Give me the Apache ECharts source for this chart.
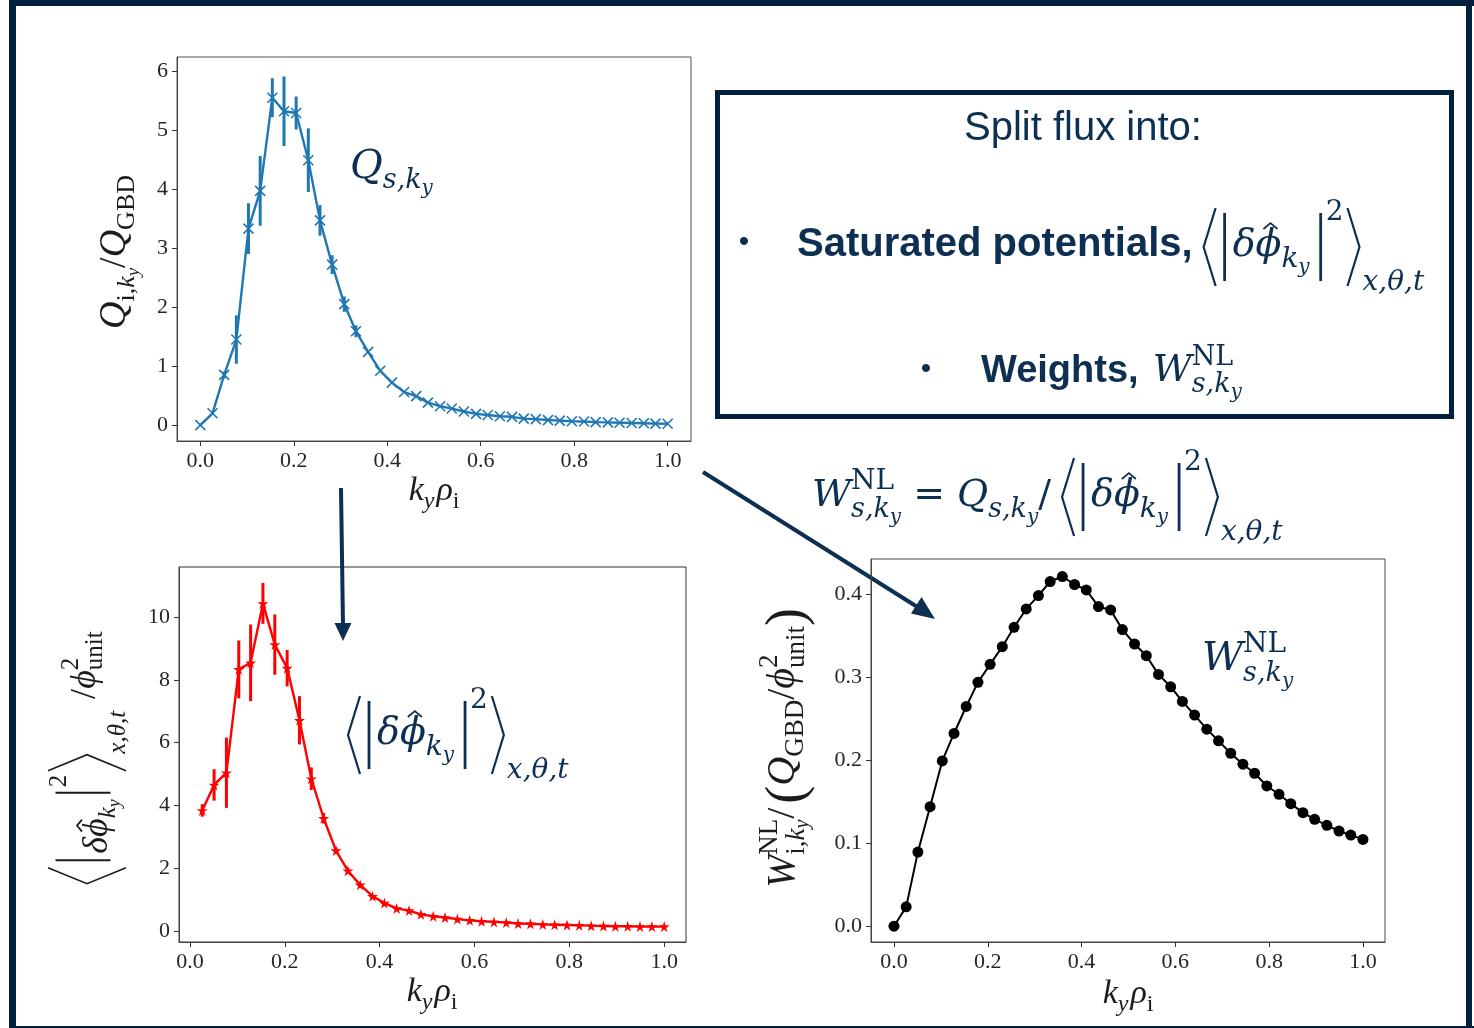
<!DOCTYPE html>
<html>
<head>
<meta charset="utf-8">
<script src="https://cdn.jsdelivr.net/npm/echarts@6/dist/echarts.min.js"></script>
<style>
  html, body { margin: 0; padding: 0; background: #ffffff; }
  #c { width: 1474px; height: 1028px; }
</style>
</head>
<body>
<div id="c"></div>
<script>
// ---- data --------------------------------------------------------------
// binormal wavenumbers k_y rho_i
const ky = [0.000, 0.026, 0.051, 0.077, 0.103, 0.128, 0.154, 0.179, 0.205, 0.231,
            0.256, 0.282, 0.308, 0.333, 0.359, 0.385, 0.410, 0.436, 0.462, 0.487,
            0.513, 0.538, 0.564, 0.590, 0.615, 0.641, 0.667, 0.692, 0.718, 0.744,
            0.769, 0.795, 0.821, 0.846, 0.872, 0.897, 0.923, 0.949, 0.974, 1.000];

// ion heat flux per mode, Q_{i,ky}/Q_GBD, and its spread
const fluxQ = [0.00, 0.20, 0.85, 1.45, 3.33, 3.97, 5.55, 5.32, 5.29, 4.49,
               3.47, 2.72, 2.05, 1.59, 1.24, 0.92, 0.72, 0.56, 0.49, 0.38,
               0.32, 0.28, 0.23, 0.19, 0.17, 0.15, 0.14, 0.11, 0.10, 0.085,
               0.075, 0.065, 0.060, 0.050, 0.045, 0.040, 0.035, 0.030, 0.025, 0.022];
const fluxQErr = [0, 0, 0.06, 0.41, 0.43, 0.59, 0.33, 0.59, 0.28, 0.54,
                  0.26, 0.16, 0.13, 0.10, 0, 0, 0, 0, 0, 0,
                  0, 0, 0, 0, 0, 0, 0, 0, 0, 0,
                  0, 0, 0, 0, 0, 0, 0, 0, 0, 0];

// saturated potential <|dphi_ky|^2>_{x,theta,t} / phi_unit^2 (from the first nonzero ky)
const kyPhi = ky.slice(1);
const phiSat = [3.84, 4.65, 5.04, 8.33, 8.54, 10.43, 9.12, 8.37, 6.71, 4.85,
                3.59, 2.56, 1.92, 1.47, 1.11, 0.89, 0.72, 0.65, 0.53, 0.47,
                0.43, 0.38, 0.34, 0.31, 0.29, 0.27, 0.24, 0.23, 0.21, 0.20,
                0.19, 0.18, 0.17, 0.16, 0.15, 0.15, 0.14, 0.14, 0.14];
const phiSatErr = [0.20, 0.50, 1.12, 0.92, 1.22, 0.65, 0.96, 0.58, 0.77, 0.36,
                   0.17, 0.10, 0.08, 0.06, 0, 0, 0, 0, 0, 0,
                   0, 0, 0, 0, 0, 0, 0, 0, 0, 0,
                   0, 0, 0, 0, 0, 0, 0, 0, 0];

// nonlinear weights W^NL_{i,ky} / (Q_GBD / phi_unit^2)
const weightW = [0.000, 0.0233, 0.0892, 0.1439, 0.1990, 0.2320, 0.2645, 0.2935, 0.3152, 0.3365,
                 0.3598, 0.3819, 0.3980, 0.4149, 0.4209, 0.4113, 0.4048, 0.3847, 0.3807, 0.3570,
                 0.3397, 0.3256, 0.3031, 0.2882, 0.2706, 0.2541, 0.2372, 0.2231, 0.2082, 0.1950,
                 0.1841, 0.1688, 0.1588, 0.1475, 0.1367, 0.1286, 0.1214, 0.1146, 0.1097, 0.1045];

// tick labels
const kyTicks = [0, 0.2, 0.4, 0.6, 0.8, 1.0];
const qTicks = [0, 1, 2, 3, 4, 5, 6];
const phiTicks = [0, 2, 4, 6, 8, 10];
const wTicks = [0, 0.1, 0.2, 0.3, 0.4];

// ---- styling -----------------------------------------------------------
const NAVY = '#0d2f52';
const FRAME = '#01203d';
const INK = '#1c1c1c';
const TICKFONT = 'Liberation Serif';
const MATHNAVY = 'DejaVu Serif';
const MATHBLACK = 'Liberation Serif';

// ---- small typesetting helper for formulas -----------------------------
const mctx = document.createElement('canvas').getContext('2d');
const I = (t, s, dy = 0, o = {}) => Object.assign({ t, s, it: true, dy }, o);
const R = (t, s, dy = 0, o = {}) => Object.assign({ t, s, it: false, dy }, o);
const D = (d, h, w, cy, o = {}) => Object.assign({ d, h, w, cy }, o);
const SP = n => ({ sp: n });
const HAT = (y, hw, hh, dx = 0) => ({ hat: true, y, hw, hh, dx });
const ST = (...rows) => ({ stack: rows });

function fontOf(tk, fam) {
  return (tk.it ? 'italic ' : '') + (tk.b ? 'bold ' : '') + tk.s + 'px "' + (tk.f || fam) + '"';
}
// lays tokens out along a baseline at y = 0, returns the end x
function flow(tokens, x0, fam, color, els) {
  let x = x0, prev = null;
  tokens.forEach(tk => {
    if (tk.sp !== undefined) { x += tk.sp; return; }
    if (tk.stack) {
      let w = 0;
      tk.stack.forEach(row => { w = Math.max(w, flow(row, x, fam, color, els) - x); });
      x += w; return;
    }
    if (tk.d) {
      const h = tk.h, w = tk.w, cy = tk.cy;
      let pts;
      if (tk.d === '<') pts = [[x + w - 1, cy - h / 2], [x + 1, cy], [x + w - 1, cy + h / 2]];
      else if (tk.d === '>') pts = [[x + 1, cy - h / 2], [x + w - 1, cy], [x + 1, cy + h / 2]];
      else pts = [[x + w / 2, cy - h / 2], [x + w / 2, cy + h / 2]];
      els.push({ type: 'polyline', shape: { points: pts },
                 style: { stroke: color, lineWidth: tk.lw || 2, fill: 'none' } });
      x += w; return;
    }
    if (tk.hat) {
      const cx = prev.x + prev.w / 2 + tk.dx;
      els.push({ type: 'polyline',
                 shape: { points: [[cx - tk.hw, tk.y + tk.hh], [cx, tk.y], [cx + tk.hw, tk.y + tk.hh]] },
                 style: { stroke: color, lineWidth: 1.7, fill: 'none' } });
      return;
    }
    const font = fontOf(tk, fam);
    mctx.font = font;
    const w = mctx.measureText(tk.t).width;
    els.push({ type: 'text', x: x, y: (tk.dy || 0) - 0.34 * tk.s,
               style: { text: tk.t, font: font, fill: tk.c || color,
                        textAlign: 'left', textVerticalAlign: 'middle', verticalAlign: 'middle' } });
    prev = { x, w };
    x += w + (tk.k || 0);
  });
  return x;
}
function formula(tokens, o) {
  const els = [];
  const w = flow(tokens, 0, o.fam, o.color, els);
  const shift = o.align === 'center' ? -w / 2 : 0;
  return { type: 'group', x: o.x, y: o.y, rotation: o.rot || 0, silent: true,
           children: [{ type: 'group', x: shift, y: 0, children: els }] };
}
// < | d phi_ky |^2 >_{x,theta,t}
function phiTokens(S, s1, s2, p) {
  return [
    D('<', p.h, p.bw, p.cy, { lw: p.lw }), SP(p.g),
    D('|', p.h - p.bi, 4, p.cy + (p.bdy || 0), { lw: p.lwb }), SP(p.g),
    I('δ', S), I('ϕ', S), HAT(p.hy, p.hw, p.hh, p.hdx),
    I('k', s1, p.sb), I('y', s2, p.sb2), SP(p.g2),
    D('|', p.h - p.bi, 4, p.cy + (p.bdy || 0), { lw: p.lwb }), SP(p.g3),
    R('2', s1, p.sup), SP(p.g3),
    D('>', p.h, p.bw, p.cy, { lw: p.lw }), SP(2),
    I('x,θ,t', s1, p.sub)
  ];
}
const navyPhi = { h: 78, bw: 14, cy: -12, bi: 10, g: 6, g2: 9, g3: 3, lw: 2.2, lwb: 2.8,
                  hy: -36, hw: 7, hh: 6, hdx: 2, sb: 10, sb2: 16, sup: -37, sub: 33 };

const kyLabel = [I('k', 34), I('y', 24, 7), SP(2), I('ρ', 34), R('i', 24, 7)];

// ---- graphic pieces: frame, text box, arrows, formulas -----------------
const graphics = [
  // slide frame
  { type: 'rect', shape: { x: 9, y: 0, width: 1465, height: 6 }, style: { fill: FRAME } },
  { type: 'rect', shape: { x: 9, y: 0, width: 7, height: 1028 }, style: { fill: FRAME } },
  { type: 'rect', shape: { x: 1466, y: 0, width: 6, height: 1028 }, style: { fill: FRAME } },
  { type: 'rect', shape: { x: 9, y: 1026, width: 1465, height: 2 }, style: { fill: FRAME } },
  // text box
  { type: 'rect', shape: { x: 717.5, y: 92.5, width: 734, height: 324 },
    style: { fill: 'none', stroke: FRAME, lineWidth: 5 } },
  formula([R('Split flux into:', 40)], { x: 1083, y: 143, align: 'center', fam: 'Liberation Sans', color: NAVY }),
  { type: 'text', x: 744, y: 243, style: { text: '•', font: '30px "Liberation Sans"', fill: NAVY,
    textAlign: 'center', textVerticalAlign: 'middle', verticalAlign: 'middle' } },
  formula([R('Saturated potentials,', 40, 0, { b: true, f: 'Liberation Sans' }), SP(10)]
          .concat(phiTokens(38, 28, 20, navyPhi)),
          { x: 797, y: 259, fam: MATHNAVY, color: NAVY }),
  { type: 'text', x: 926, y: 370, style: { text: '•', font: '30px "Liberation Sans"', fill: NAVY,
    textAlign: 'center', textVerticalAlign: 'middle', verticalAlign: 'middle' } },
  formula([R('Weights,', 38, 0, { b: true, f: 'Liberation Sans' }), SP(14),
           I('W', 38), ST([R('NL', 27, -17)], [I('s,k', 27, 10), I('y', 20, 16)])],
          { x: 981, y: 384, fam: MATHNAVY, color: NAVY }),
  // definition of the weights
  formula([I('W', 38), ST([R('NL', 28, -18)], [I('s,k', 27, 10), I('y', 20, 16)]), SP(12),
           R('=', 38), SP(12), I('Q', 38), I('s,k', 27, 10), I('y', 20, 16), R('/', 38), SP(10)]
          .concat(phiTokens(38, 28, 20, navyPhi)),
          { x: 812, y: 509, fam: MATHNAVY, color: NAVY }),
  // arrows
  { type: 'line', shape: { x1: 341, y1: 488, x2: 343, y2: 626 }, style: { stroke: NAVY, lineWidth: 4 } },
  { type: 'polygon', shape: { points: [[343, 641], [334.5, 623], [351.5, 623]] }, style: { fill: NAVY } },
  { type: 'line', shape: { x1: 703, y1: 472, x2: 919, y2: 608 }, style: { stroke: NAVY, lineWidth: 4 } },
  { type: 'polygon', shape: { points: [[935, 619], [911, 613.5], [921.5, 597]] }, style: { fill: NAVY } },
  // in-plot annotations
  formula([I('Q', 40), I('s,k', 27, 9), I('y', 20, 15)], { x: 350, y: 181, fam: MATHNAVY, color: NAVY }),
  formula(phiTokens(38, 28, 20, navyPhi), { x: 347, y: 747, fam: MATHNAVY, color: NAVY }),
  formula([I('W', 40), ST([R('NL', 28, -19)], [I('s,k', 27, 10), I('y', 20, 16)])],
          { x: 1202, y: 673, fam: MATHNAVY, color: NAVY }),
  // axis titles
  formula(kyLabel, { x: 434, y: 503, align: 'center', fam: MATHBLACK, color: INK }),
  formula(kyLabel, { x: 432, y: 1004, align: 'center', fam: MATHBLACK, color: INK }),
  formula(kyLabel, { x: 1128, y: 1006, align: 'center', fam: MATHBLACK, color: INK }),
  formula([I('Q', 38), R('i,', 26, 8), I('k', 26, 8), I('y', 19, 12), R('/', 38),
           I('Q', 38), R('GBD', 26, 8)],
          { x: 128, y: 252, rot: Math.PI / 2, align: 'center', fam: MATHBLACK, color: INK }),
  formula([D('<', 78, 18, -23, { lw: 1.6 }), SP(4), D('|', 55, 5, -27, { lw: 2 }), SP(4),
           I('δ', 36), I('ϕ', 36), HAT(-33, 6, 5, 2), I('k', 25, 7), I('y', 18, 11), SP(4),
           D('|', 55, 5, -27, { lw: 2 }), SP(3), R('2', 25, -42), SP(3),
           D('>', 78, 18, -23, { lw: 1.6 }), I('x,θ,t', 25, 17), SP(12),
           R('/', 36, -12), I('ϕ', 36, -12), ST([R('2', 25, -30)], [R('unit', 25, -6)])],
          { x: 110, y: 758, rot: Math.PI / 2, align: 'center', fam: MATHBLACK, color: INK }),
  formula([I('W', 40), ST([R('NL', 27, -18)], [R('i,', 27, 9), I('k', 27, 9), I('y', 20, 13)]),
           R('/', 40), SP(4), R('(', 54, 10), I('Q', 40), R('GBD', 27, 8), R('/', 40),
           I('ϕ', 40), ST([R('2', 27, -18)], [R('unit', 27, 9)]), R(')', 54, 10)],
          { x: 797, y: 748, rot: Math.PI / 2, align: 'center', fam: MATHBLACK, color: INK })
];

// ---- axes --------------------------------------------------------------
function xAxisFor(grid, min, max) {
  return {
    type: 'value', gridIndex: grid, min: min, max: max,
    axisLine: { show: true, onZero: false, lineStyle: { color: '#444', width: 1 } },
    splitLine: { show: false },
    axisTick: { show: true, length: 5, customValues: kyTicks, lineStyle: { color: '#333' } },
    axisLabel: { customValues: kyTicks, formatter: v => v.toFixed(1), margin: 9,
                 fontFamily: TICKFONT, fontSize: 22, color: '#262626' }
  };
}
function yAxisFor(grid, min, max, ticks, fmt) {
  return {
    type: 'value', gridIndex: grid, min: min, max: max,
    axisLine: { show: true, onZero: false, lineStyle: { color: '#444', width: 1 } },
    splitLine: { show: false },
    axisTick: { show: true, length: 5, customValues: ticks, lineStyle: { color: '#333' } },
    axisLabel: { customValues: ticks, formatter: fmt, margin: 9,
                 fontFamily: TICKFONT, fontSize: 22, color: '#262626' }
  };
}

function errorBars(xs, ys, errs, axis, color) {
  const data = [];
  xs.forEach((x, i) => { if (errs[i] > 0) data.push([x, ys[i] - errs[i], ys[i] + errs[i]]); });
  return {
    type: 'custom', xAxisIndex: axis, yAxisIndex: axis, silent: true, z: 4,
    encode: { x: 0, y: [1, 2] }, data: data,
    renderItem: (params, api) => {
      const a = api.coord([api.value(0), api.value(1)]);
      const b = api.coord([api.value(0), api.value(2)]);
      return { type: 'line', shape: { x1: a[0], y1: a[1], x2: b[0], y2: b[1] },
               style: { stroke: color, lineWidth: 3 } };
    }
  };
}

const STAR = 'path://M50,0L61,35L98,35L68,57L79,91L50,70L21,91L32,57L2,35L39,35Z';
const CROSS = 'path://M0,0L10,10M0,10L10,0';

const option = {
  animation: false,
  backgroundColor: '#ffffff',
  grid: [
    { left: 177, top: 57, width: 514, height: 384, show: true, borderColor: '#555', borderWidth: 1 },
    { left: 179, top: 567, width: 507, height: 375, show: true, borderColor: '#333', borderWidth: 1 },
    { left: 871, top: 559, width: 514, height: 383, show: true, borderColor: '#444', borderWidth: 1 }
  ],
  xAxis: [xAxisFor(0, -0.05, 1.05), xAxisFor(1, -0.023, 1.046), xAxisFor(2, -0.049, 1.047)],
  yAxis: [
    yAxisFor(0, -0.27, 6.24, qTicks, v => String(v)),
    yAxisFor(1, -0.35, 11.59, phiTicks, v => String(v)),
    yAxisFor(2, -0.019, 0.442, wTicks, v => v.toFixed(1))
  ],
  series: [
    { type: 'line', xAxisIndex: 0, yAxisIndex: 0, silent: true, z: 3,
      data: ky.map((k, i) => [k, fluxQ[i]]),
      symbol: CROSS, symbolSize: 10, showAllSymbol: true,
      lineStyle: { color: '#1f77b4', width: 2.4 },
      itemStyle: { color: '#1f77b4', borderColor: '#1f77b4', borderWidth: 1.6 } },
    errorBars(ky, fluxQ, fluxQErr, 0, '#1f77b4'),
    { type: 'line', xAxisIndex: 1, yAxisIndex: 1, silent: true, z: 3,
      data: kyPhi.map((k, i) => [k, phiSat[i]]),
      symbol: STAR, symbolSize: 11, showAllSymbol: true,
      lineStyle: { color: '#ff0000', width: 2.4 },
      itemStyle: { color: '#ff0000', borderWidth: 0 } },
    errorBars(kyPhi, phiSat, phiSatErr, 1, '#ff0000'),
    { type: 'line', xAxisIndex: 2, yAxisIndex: 2, silent: true, z: 3,
      data: ky.map((k, i) => [k, weightW[i]]),
      symbol: 'circle', symbolSize: 11, showAllSymbol: true,
      lineStyle: { color: '#000000', width: 2 },
      itemStyle: { color: '#000000', borderWidth: 0 } }
  ],
  graphic: { elements: graphics }
};

const chart = echarts.init(document.getElementById('c'), null, { renderer: 'canvas' });
chart.setOption(option);
</script>
</body>
</html>
